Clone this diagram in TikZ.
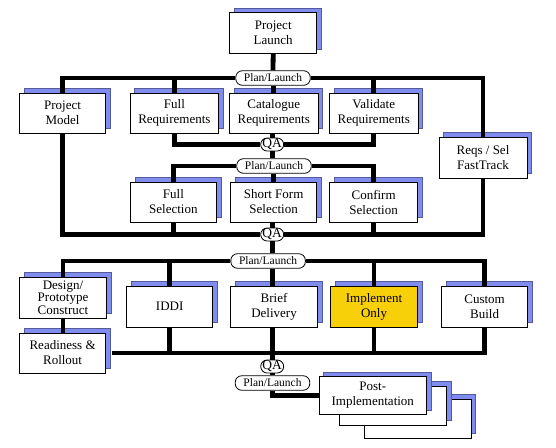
\documentclass[tikz,border=0pt]{standalone}
\usepackage{fontspec}
\setmainfont{Liberation Serif}
\usetikzlibrary{shadows}
\definecolor{shblue}{RGB}{128,140,238}
\definecolor{impyel}{RGB}{247,208,10}
\tikzset{
  box/.style={draw=black, line width=0.8pt, fill=white, align=center, inner sep=0pt,
    font=\fontsize{13}{15}\selectfont,
    general shadow={fill=shblue, draw=shblue!65!black, line width=0.4pt,
      shadow xshift=4.5pt, shadow yshift=4.5pt}},
  pill/.style={draw=black, line width=0.8pt, fill=white, rounded corners=6.5pt,
    inner sep=0pt, font=\fontsize{11.5}{12}\selectfont},
  qa/.style={pill, minimum width=23pt, minimum height=13pt, font=\fontsize{13.5}{13}\selectfont},
  plan/.style={pill, minimum width=74.5pt, minimum height=14.5pt},
  bus/.style={line width=4.8pt, line join=miter},
}
\begin{document}
\begin{tikzpicture}[x=1pt, y=-1pt]
\fill[white] (0,0) rectangle (556,447);
\useasboundingbox (0,0) rectangle (556,447);

% top
\node[box, minimum width=87pt, minimum height=40.5pt] (pl) at (273.2,33) {Project\\Launch};
\node[plan] (plan1) at (273,78) {Plan/Launch};

% row 1
\node[box, minimum width=86pt, minimum height=40pt] (pm) at (62.6,113) {Project\\Model};
\node[box, minimum width=88.5pt, minimum height=40pt] (fr) at (174.4,113) {Full\\Requirements};
\node[box, minimum width=88.5pt, minimum height=40pt] (cr) at (273.7,113) {Catalogue\\Requirements};
\node[box, minimum width=88.5pt, minimum height=40pt] (vr) at (373.7,113) {Validate\\Requirements};
\node[box, minimum width=88pt, minimum height=41pt] (rs) at (483,157.5) {Reqs / Sel\\FastTrack};
\node[qa] (qa1) at (272.2,144.5) {QA};

% row 2
\node[plan] (plan2) at (274,166) {Plan/Launch};
\node[box, minimum width=86pt, minimum height=40pt] (fs) at (173.4,202) {Full\\Selection};
\node[box, minimum width=86pt, minimum height=40pt] (sf) at (273.6,202) {Short Form\\Selection};
\node[box, minimum width=87.5pt, minimum height=40pt] (cs) at (373.6,202) {Confirm\\Selection};
\node[qa] (qa2) at (272.2,234.5) {QA};

% row 3
\node[plan] (plan3) at (268.1,261) {Plan/Launch};
\node[box, minimum width=87pt, minimum height=41pt, font=\fontsize{13}{12.5}\selectfont] (dp) at (63,297.5) {Design/\\Prototype\\Construct};
\node[box, minimum width=86pt, minimum height=41pt] (id) at (169.7,306.5) {IDDI};
\node[box, minimum width=87pt, minimum height=41pt] (bd) at (274,306.5) {Brief\\Delivery};
\node[box, minimum width=87pt, minimum height=41pt, fill=impyel] (im) at (374,306.5) {Implement\\Only};
\node[box, minimum width=86pt, minimum height=41pt] (cb) at (484.6,306.5) {Custom\\Build};
\node[box, minimum width=86pt, minimum height=40pt] (rr) at (62.6,353) {Readiness \&\\Rollout};
\node[qa] (qa3) at (272.2,366.5) {QA};
\node[plan] (plan4) at (272.5,383) {Plan/Launch};

% post implementation stack
\node[box, minimum width=107pt, minimum height=39pt] (p3) at (417.5,418.5) {};
\node[box, minimum width=107pt, minimum height=39pt] (p2) at (392.7,405.5) {};
\node[box, minimum width=107.5pt, minimum height=38pt] (pf) at (372.8,395.5) {Post-\\Implementation};

% connectors
\draw[bus] (pl.south) -- (plan1.north);
\draw[bus] (pm.north) |- (plan1.west);
\draw[bus] (plan1.east) -| (rs.north);
\draw[bus] (fr.north) -- (fr.north |- plan1.center);
\draw[bus] (cr.north) -- (cr.north |- plan1.south);
\draw[bus] (vr.north) -- (vr.north |- plan1.center);

\draw[bus] (fr.south) |- (qa1.west);
\draw[bus] (qa1.east) -| (vr.south);
\draw[bus] (qa1.north |- cr.south) -- (qa1.north);
\draw[bus] (qa1.south) -- (qa1.south |- plan2.north);

\draw[bus] (fs.north) |- (plan2.west);
\draw[bus] (plan2.east) -| (cs.north);
\draw[bus] (sf.north) -- (sf.north |- plan2.south);

\draw[bus] (pm.south) |- (qa2.west);
\draw[bus] (qa2.east) -| (rs.south);
\draw[bus] (fs.south) -- (fs.south |- qa2.center);
\draw[bus] (cs.south) -- (cs.south |- qa2.center);
\draw[bus] (qa2.north |- sf.south) -- (qa2.north);
\draw[bus] (qa2.south) -- (qa2.south |- plan3.north);

\draw[bus] (dp.north) |- (plan3.west);
\draw[bus] (plan3.east) -| (cb.north);
\draw[bus] (id.north) -- (id.north |- plan3.center);
\draw[bus] (im.north) -- (im.north |- plan3.center);
\draw[bus] (qa2.south |- bd.north) -- (qa2.south |- plan3.south);
\draw[bus] (dp.south) -- (dp.south |- rr.north);

\coordinate (b5) at ([xshift=5.5pt]rr.east);
\draw[bus] (b5) -| (cb.south);
\draw[bus] (id.south) -- (id.south |- b5);
\draw[bus] (im.south) -- (im.south |- b5);
\draw[bus] (qa3.north |- bd.south) -- (qa3.north);
\draw[bus] (qa3.south) -- (qa3.south |- plan4.north);
\draw[bus] (qa3.south |- plan4.south) |- (pf.west);
\end{tikzpicture}
\end{document}
